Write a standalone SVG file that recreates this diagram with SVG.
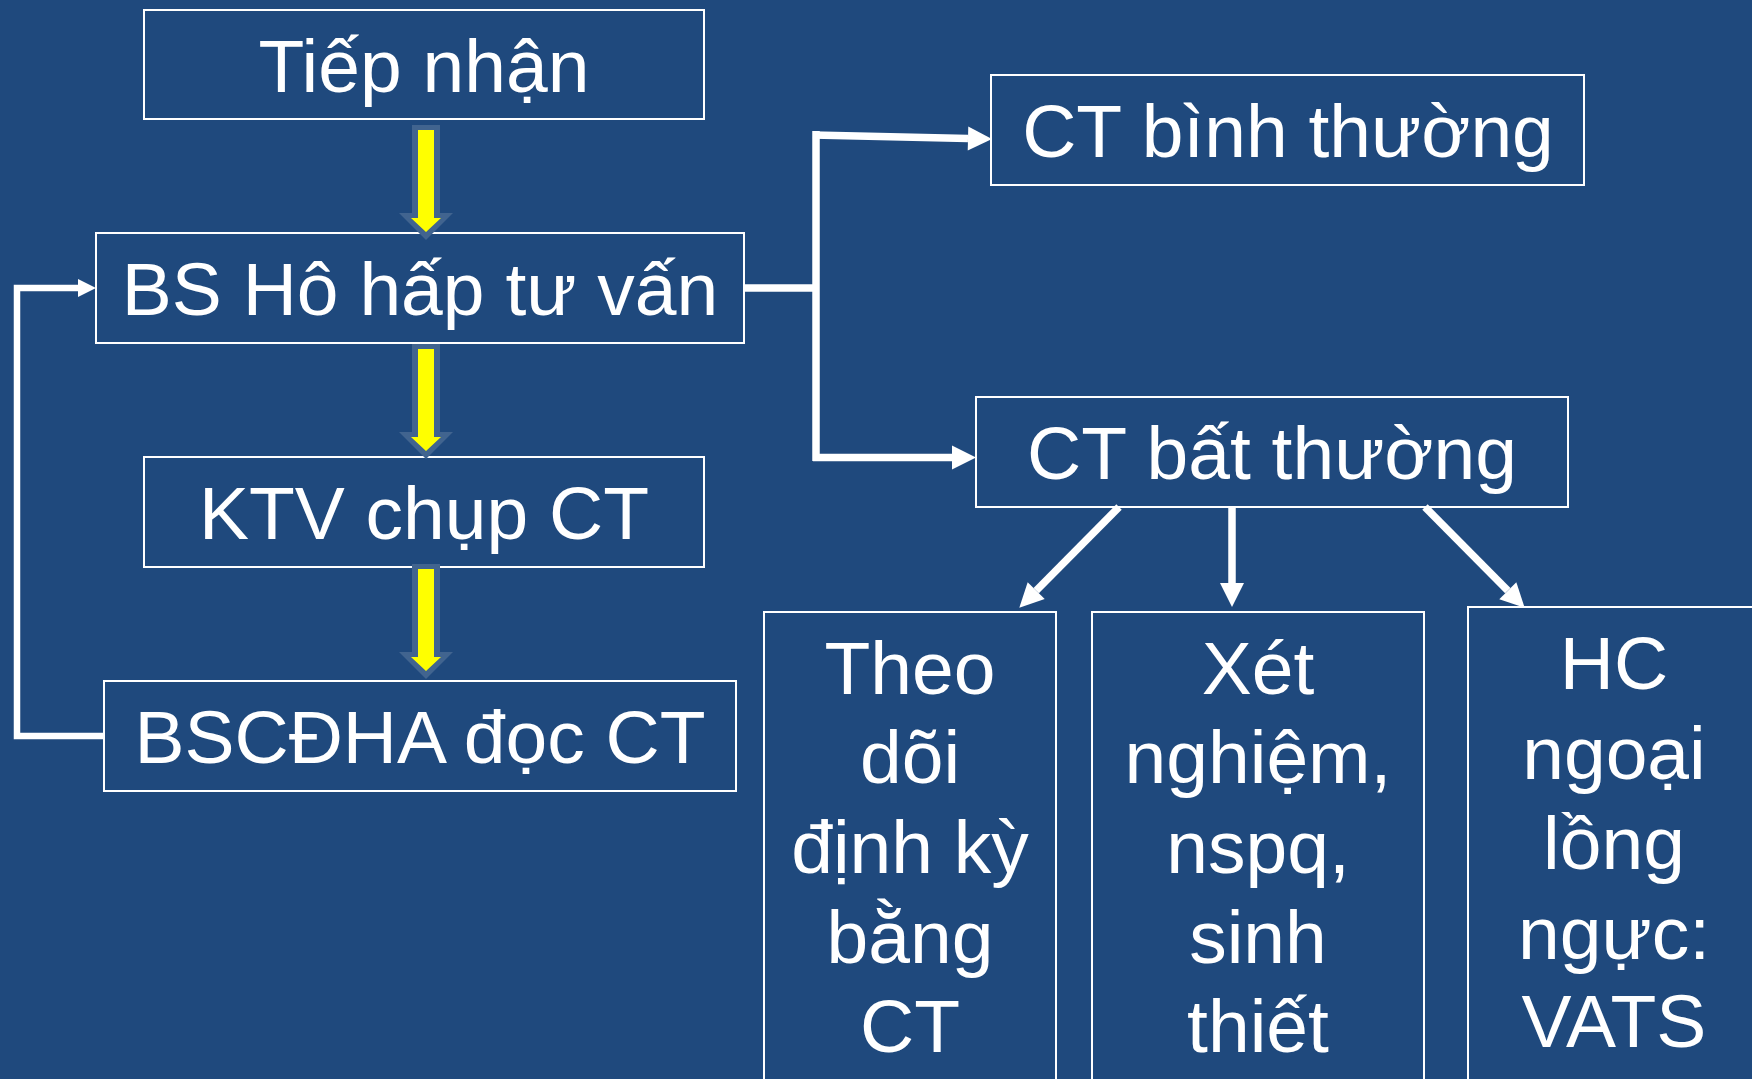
<svg xmlns="http://www.w3.org/2000/svg" xmlns:xlink="http://www.w3.org/1999/xlink" width="1752" height="1079" viewBox="0 0 1752 1079">
  <style>
    .box { fill: #1F497D; stroke: #FFFFFF; stroke-width: 2; }
    .lbl { font-family: "Liberation Sans", Arial, sans-serif; font-size: 75px; fill: #FFFFFF; text-anchor: middle; }
    .wire { fill: none; stroke: #FFFFFF; stroke-width: 7.5; }
    .wire-thin { fill: none; stroke: #FFFFFF; stroke-width: 6.5; }
  </style>
  <defs>
    <marker id="headL" markerUnits="userSpaceOnUse" markerWidth="24" markerHeight="24" refX="0" refY="12" orient="auto" overflow="visible">
      <path d="M0,0 L24,12 L0,24 Z" fill="#FFFFFF"/>
    </marker>
    <marker id="headS" markerUnits="userSpaceOnUse" markerWidth="18" markerHeight="18" refX="0" refY="9" orient="auto" overflow="visible">
      <path d="M0,0 L18,9 L0,18 Z" fill="#FFFFFF"/>
    </marker>
    <g id="yarrow">
      <path d="M412,-5 L440,-5 L440,83 L453,83 L426,110 L399,83 L412,83 Z" fill="#41648F"/>
      <path d="M418,0 L434,0 L434,88 L441,88 L426,102 L411,88 L418,88 Z" fill="#FFFF00"/>
    </g>
  </defs>

  <rect x="0" y="0" width="1752" height="1079" fill="#1F497D"/>

  <g id="node-tiep-nhan">
    <rect class="box" x="144" y="10" width="560" height="109"/>
    <text class="lbl" x="424" y="92">Tiếp nhận</text>
  </g>
  <g id="node-bs-ho-hap">
    <rect class="box" x="96" y="233" width="648" height="110"/>
    <text class="lbl" x="420" y="315">BS Hô hấp tư vấn</text>
  </g>
  <g id="node-ktv">
    <rect class="box" x="144" y="457" width="560" height="110"/>
    <text class="lbl" x="424" y="539">KTV chụp CT</text>
  </g>
  <g id="node-bscdha">
    <rect class="box" x="104" y="681" width="632" height="110"/>
    <text class="lbl" x="420" y="763">BSCĐHA đọc CT</text>
  </g>
  <g id="node-ct-binh-thuong">
    <rect class="box" x="991" y="75" width="593" height="110"/>
    <text class="lbl" x="1288" y="157">CT bình thường</text>
  </g>
  <g id="node-ct-bat-thuong">
    <rect class="box" x="976" y="397" width="592" height="110"/>
    <text class="lbl" x="1272" y="479">CT bất thường</text>
  </g>
  <g id="node-theo-doi">
    <rect class="box" x="764" y="612" width="292" height="520"/>
    <text class="lbl" x="910" y="694">Theo</text>
    <text class="lbl" x="910" y="783">dõi</text>
    <text class="lbl" x="910" y="873">định kỳ</text>
    <text class="lbl" x="910" y="963">bằng</text>
    <text class="lbl" x="910" y="1052">CT</text>
  </g>
  <g id="node-xet-nghiem">
    <rect class="box" x="1092" y="612" width="332" height="520"/>
    <text class="lbl" x="1258" y="694">Xét</text>
    <text class="lbl" x="1258" y="783">nghiệm,</text>
    <text class="lbl" x="1258" y="873">nspq,</text>
    <text class="lbl" x="1258" y="963">sinh</text>
    <text class="lbl" x="1258" y="1052">thiết</text>
  </g>
  <g id="node-hc-ngoai">
    <rect class="box" x="1468" y="607" width="292" height="520"/>
    <text class="lbl" x="1614" y="689">HC</text>
    <text class="lbl" x="1614" y="779">ngoại</text>
    <text class="lbl" x="1614" y="869">lồng</text>
    <text class="lbl" x="1614" y="959">ngực:</text>
    <text class="lbl" x="1614" y="1047">VATS</text>
  </g>

  <g id="connectors">
    <use xlink:href="#yarrow" transform="translate(0,130)"/>
    <use xlink:href="#yarrow" transform="translate(0,349)"/>
    <use xlink:href="#yarrow" transform="translate(0,569)"/>

    <path class="wire-thin" d="M104,736 H17 V288 H78" marker-end="url(#headS)"/>

    <path class="wire" d="M744,288 H816"/>
    <path class="wire" d="M816,131 V461"/>
    <path class="wire" d="M813,135 L968,138.5" marker-end="url(#headL)"/>
    <path class="wire" d="M813,457.5 H952" marker-end="url(#headL)"/>

    <path class="wire" d="M1119,507 L1036.2,590.6" marker-end="url(#headL)"/>
    <path class="wire" d="M1232,507 V583" marker-end="url(#headL)"/>
    <path class="wire" d="M1425,507 L1507.8,590.7" marker-end="url(#headL)"/>
  </g>
</svg>
